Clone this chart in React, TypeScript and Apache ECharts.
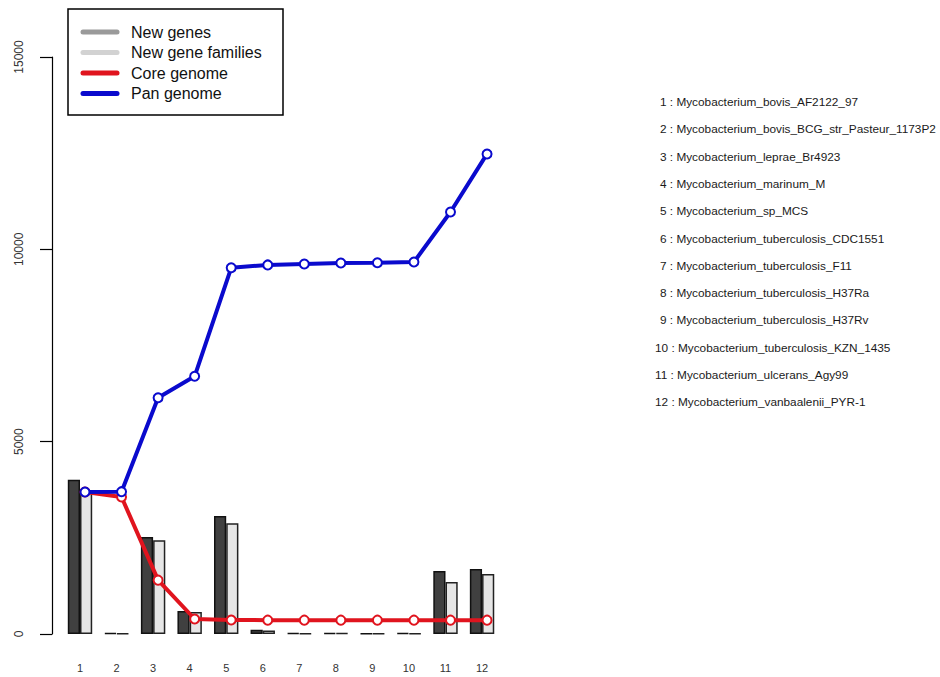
import React, { useEffect, useRef } from "react";
import * as echarts from "echarts";

const categories = ["1", "2", "3", "4", "5", "6", "7", "8", "9", "10", "11", "12"];
const newGenes = [4010, 25, 2520, 600, 3070, 110, 25, 25, 15, 25, 1640, 1690];
const newGeneFamilies = [3690, 15, 2440, 570, 2880, 90, 15, 20, 10, 15, 1350, 1560];
const coreGenome = [3690, 3560, 1400, 390, 365, 360, 360, 360, 360, 360, 360, 360];
const panGenome = [3690, 3700, 6140, 6700, 9520, 9595, 9620, 9645, 9650, 9670, 10970, 12480];
const yTicks = [0, 5000, 10000, 15000];
const legendNames = ["New genes", "New gene families", "Core genome", "Pan genome"];
const legendColors = ["#9a9a9a", "#d2d2d2", "#e0141e", "#0a0acd"];
const genomeNames = [
  "Mycobacterium_bovis_AF2122_97",
  "Mycobacterium_bovis_BCG_str_Pasteur_1173P2",
  "Mycobacterium_leprae_Br4923",
  "Mycobacterium_marinum_M",
  "Mycobacterium_sp_MCS",
  "Mycobacterium_tuberculosis_CDC1551",
  "Mycobacterium_tuberculosis_F11",
  "Mycobacterium_tuberculosis_H37Ra",
  "Mycobacterium_tuberculosis_H37Rv",
  "Mycobacterium_tuberculosis_KZN_1435",
  "Mycobacterium_ulcerans_Agy99",
  "Mycobacterium_vanbaalenii_PYR-1",
];

const FONT = "'Liberation Sans', Arial, sans-serif";

export default function App() {
  const ref = useRef<HTMLDivElement>(null);
  useEffect(() => {
    if (!ref.current) return;
    const chart = echarts.init(ref.current, null, { renderer: "svg" });
    const catW = 36.55;
    const gridLeft = 80 - catW / 2;
    const gridWidth = catW * 12;
    const yMax = yTicks[yTicks.length - 1];

    const legendGraphics: any[] = [
      {
        type: "rect",
        shape: { x: 68, y: 9, width: 215, height: 106 },
        style: { fill: "#fff", stroke: "#000", lineWidth: 1.5 },
        z: 100,
      },
    ];
    legendNames.forEach((n, i) => {
      const y = 32 + i * 20.5;
      legendGraphics.push({
        type: "line",
        shape: { x1: 83, y1: y, x2: 117, y2: y },
        style: { stroke: legendColors[i], lineWidth: 5, lineCap: "round" },
        z: 101,
      });
      legendGraphics.push({
        type: "text",
        x: 131,
        y: y,
        style: { text: n, fill: "#111", font: `16px ${FONT}`, verticalAlign: "middle", textAlign: "left" },
        z: 101,
      });
    });
    const listGraphics = genomeNames.map((n, i) => ({
      type: "text",
      x: i >= 9 ? 655 : 660,
      y: 102 + i * 27.3,
      style: {
        text: `${i + 1} : ${n}`,
        fill: "#1a1a1a",
        font: `11.8px ${FONT}`,
        verticalAlign: "middle",
        textAlign: "left",
      },
    }));

    chart.setOption({
      animation: false,
      backgroundColor: "#fff",
      textStyle: { fontFamily: FONT },
      grid: [
        { left: gridLeft, width: gridWidth, top: 57, height: 577 },
        { left: gridLeft + 5, width: gridWidth, top: 57, height: 577 },
      ],
      xAxis: [
        {
          type: "category",
          gridIndex: 0,
          data: categories,
          axisLine: { show: false },
          axisTick: { show: false },
          axisLabel: { margin: 28, fontSize: 11, color: "#333", fontFamily: FONT },
        },
        {
          type: "category",
          gridIndex: 1,
          data: categories,
          show: false,
        },
      ],
      yAxis: [
        {
          type: "value",
          gridIndex: 0,
          min: 0,
          max: yMax,
          interval: 5000,
          offset: gridLeft - 52,
          splitLine: { show: false },
          axisLine: { show: true, lineStyle: { color: "#000", width: 1.2 } },
          axisTick: { show: true, length: 12, lineStyle: { color: "#000", width: 1.2 } },
          axisLabel: {
            rotate: 90,
            margin: 27,
            fontSize: 12,
            color: "#333",
            fontFamily: FONT,
            formatter: (v: number) => String(v),
          },
        },
        {
          type: "value",
          gridIndex: 1,
          min: 0,
          max: yMax,
          show: false,
          splitLine: { show: false },
        },
      ],
      series: [
        {
          name: legendNames[0],
          type: "bar",
          xAxisIndex: 0,
          yAxisIndex: 0,
          data: newGenes,
          barWidth: 12.2,
          barGap: "0%",
          itemStyle: { color: "#404040", borderColor: "#111", borderWidth: 1.5 },
        },
        {
          name: legendNames[1],
          type: "bar",
          xAxisIndex: 0,
          yAxisIndex: 0,
          data: newGeneFamilies,
          barWidth: 12.2,
          barGap: "0%",
          itemStyle: { color: "#e6e6e6", borderColor: "#222", borderWidth: 1.5 },
        },
        {
          name: legendNames[2],
          type: "line",
          xAxisIndex: 1,
          yAxisIndex: 1,
          data: coreGenome,
          symbol: "emptyCircle",
          symbolSize: 9,
          lineStyle: { color: legendColors[2], width: 4 },
          itemStyle: { color: legendColors[2], borderColor: legendColors[2], borderWidth: 4 },
          z: 5,
        },
        {
          name: legendNames[3],
          type: "line",
          xAxisIndex: 1,
          yAxisIndex: 1,
          data: panGenome,
          symbol: "emptyCircle",
          symbolSize: 9,
          lineStyle: { color: legendColors[3], width: 4 },
          itemStyle: { color: legendColors[3], borderColor: legendColors[3], borderWidth: 4 },
          z: 6,
        },
      ],
      graphic: [...legendGraphics, ...listGraphics],
    });
    return () => chart.dispose();
  }, []);
  return (
    <div
      ref={ref}
      style={{ position: "fixed", left: 0, top: 0, width: 940, height: 677, background: "#fff" }}
    />
  );
}
